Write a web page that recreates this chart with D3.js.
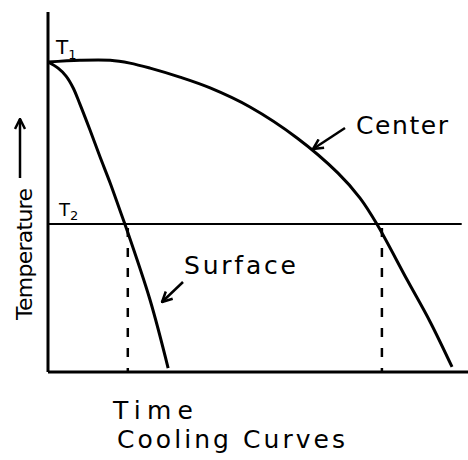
<!DOCTYPE html>
<html>
<head>
<meta charset="utf-8">
<script src="https://cdn.jsdelivr.net/npm/d3@7"></script>
<style>
  body { margin: 0; background: #fff; }
  text { font-family: "DejaVu Sans", sans-serif; fill: #000; }
</style>
</head>
<body>
<svg id="chart" width="468" height="460"></svg>
<script>
// Levels (temperature, 0..100 scale)
var T1 = 86.1;
var T2 = 41.1;

// Surface cooling curve: [time, temperature]
var surfaceTime = [0, 2.4, 4.3, 6.0, 7.6, 10.0, 12.4, 14.8, 17.1, 18.3, 24.3, 28.6];
var surfaceTemp = [86.1, 84.4, 82.2, 78.9, 74.4, 67.2, 59.7, 52.5, 45.0, 41.1, 20.0, 1.1];

// Center cooling curve
var centerTime = [0, 7.6, 14.8, 19.5, 24.3, 31.4, 38.6, 48.1, 59.3, 69.0, 74.3, 78.3, 85.5, 91.0, 96.2];
var centerTemp = [86.1, 86.6, 86.6, 85.8, 84.4, 81.9, 78.9, 73.6, 65.0, 55.3, 48.3, 41.1, 25.6, 13.9, 1.4];

// Times where each curve reaches T2 (dashed drops)
var dropTimes = [19.0, 79.5];

var svg = d3.select("#chart");

var x = d3.scaleLinear().domain([0, 100]).range([48, 468]);
var y = d3.scaleLinear().domain([0, 100]).range([372, 12]);

var line = d3.line()
    .x(function(d) { return x(d[0]); })
    .y(function(d) { return y(d[1]); })
    .curve(d3.curveCatmullRom);

var surface = d3.zip(surfaceTime, surfaceTemp);
var center = d3.zip(centerTime, centerTemp);

// arrow marker
svg.append("defs").append("marker")
    .attr("id", "arr")
    .attr("viewBox", "0 0 10 10")
    .attr("refX", 9).attr("refY", 5)
    .attr("markerWidth", 5).attr("markerHeight", 5)
    .attr("orient", "auto")
    .append("path")
    .attr("d", "M1,1 L9,5 L1,9")
    .attr("fill", "none")
    .attr("stroke", "#000")
    .attr("stroke-width", 2);

// axes (plain lines, no ticks)
svg.append("line")
    .attr("x1", x(0)).attr("x2", x(0))
    .attr("y1", y(100)).attr("y2", y(0))
    .attr("stroke", "#000").attr("stroke-width", 3);
svg.append("line")
    .attr("x1", x(0)).attr("x2", x(100))
    .attr("y1", y(0)).attr("y2", y(0))
    .attr("stroke", "#000").attr("stroke-width", 3);

// T2 horizontal line
svg.append("line")
    .attr("x1", x(0)).attr("x2", x(98.5))
    .attr("y1", y(T2)).attr("y2", y(T2))
    .attr("stroke", "#000").attr("stroke-width", 2);

// dashed drops
svg.selectAll(".drop")
    .data(dropTimes)
    .enter()
    .append("line")
    .attr("class", "drop")
    .attr("x1", function(d) { return x(d); })
    .attr("x2", function(d) { return x(d); })
    .attr("y1", y(T2) + 4)
    .attr("y2", y(0))
    .attr("stroke", "#000")
    .attr("stroke-width", 2.5)
    .attr("stroke-dasharray", "9,11");

// curves
svg.append("path")
    .attr("d", line(surface))
    .attr("fill", "none").attr("stroke", "#000").attr("stroke-width", 3);
svg.append("path")
    .attr("d", line(center))
    .attr("fill", "none").attr("stroke", "#000").attr("stroke-width", 3);

// level labels
var t1 = svg.append("text").attr("x", 56).attr("y", y(T1) - 8).style("font-size", "20px");
t1.append("tspan").text("T");
t1.append("tspan").attr("dy", 5).style("font-size", "13px").text("1");
var t2 = svg.append("text").attr("x", 59).attr("y", y(T2) - 8).style("font-size", "18px");
t2.append("tspan").text("T");
t2.append("tspan").attr("dy", 4).style("font-size", "13px").text("2");

// curve labels with arrows
svg.append("text")
    .attr("x", 356).attr("y", 134)
    .attr("textLength", 92)
    .style("font-size", "25px")
    .text("Center");
svg.append("line")
    .attr("x1", 345).attr("y1", 128)
    .attr("x2", 313).attr("y2", 149)
    .attr("stroke", "#000").attr("stroke-width", 2.5)
    .attr("marker-end", "url(#arr)");

svg.append("text")
    .attr("x", 184).attr("y", 274)
    .attr("textLength", 112)
    .style("font-size", "25px")
    .text("Surface");
svg.append("line")
    .attr("x1", 183).attr("y1", 282)
    .attr("x2", 162).attr("y2", 302)
    .attr("stroke", "#000").attr("stroke-width", 2.5)
    .attr("marker-end", "url(#arr)");

// y title with upward arrow
svg.append("text")
    .attr("transform", "translate(32,320) rotate(-90)")
    .attr("textLength", 132)
    .style("font-size", "22px")
    .text("Temperature");
svg.append("line")
    .attr("x1", 20).attr("x2", 20)
    .attr("y1", 178).attr("y2", 119)
    .attr("stroke", "#000").attr("stroke-width", 2.5)
    .attr("marker-end", "url(#arr)");

// x title and caption
svg.append("text")
    .attr("x", 113).attr("y", 419)
    .attr("textLength", 80)
    .style("font-size", "25px")
    .text("Time");
svg.append("text")
    .attr("x", 117).attr("y", 448)
    .attr("textLength", 228)
    .style("font-size", "25px")
    .text("Cooling Curves");
</script>
</body>
</html>
